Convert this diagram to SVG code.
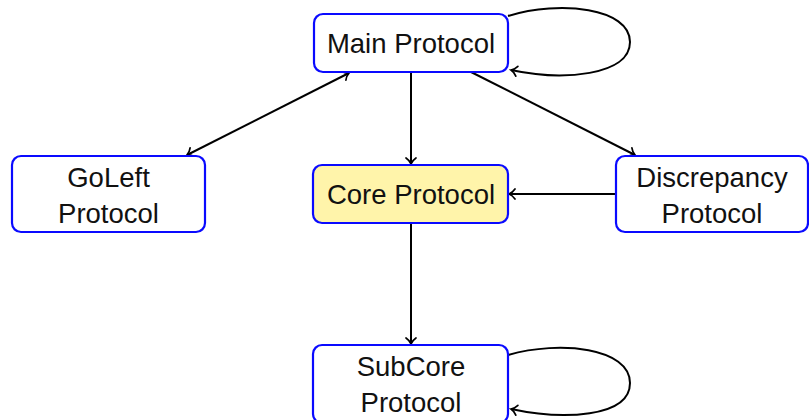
<svg xmlns="http://www.w3.org/2000/svg" width="809" height="420" viewBox="0 0 809 420">
  <style>
    .node rect { fill: #ffffff; stroke: #0a0aff; stroke-width: 2.2; }
    .node.core rect { fill: #fff4aa; }
    .node text { font-family: "Liberation Sans", Arial, sans-serif; font-size: 27.5px; fill: #111; text-anchor: middle; }
    .edges path { fill: none; stroke: #000; stroke-width: 2; }
  </style>
  <defs>
    <marker id="arrow" viewBox="-8 -6 10 12" refX="0" refY="0" markerWidth="10" markerHeight="12" markerUnits="userSpaceOnUse" orient="auto-start-reverse">
      <path d="M -6 -5 C -4 -2 -1.5 -0.6 0 0 C -1.5 0.6 -4 2 -6 5" fill="none" stroke="#000" stroke-width="1.7" stroke-linecap="round"/>
    </marker>
  </defs>

  <!-- connectors -->
  <g class="edges">
    <path d="M 411 72 L 411 164" marker-end="url(#arrow)"/>
    <path d="M 349 73 L 187 155" marker-start="url(#arrow)" marker-end="url(#arrow)"/>
    <path d="M 471 72 L 635 155" marker-end="url(#arrow)"/>
    <path d="M 616 194 L 509 194" marker-end="url(#arrow)"/>
    <path d="M 411 223 L 411 344" marker-end="url(#arrow)"/>
    <path d="M 508 16 C 560 0 630 8 630 42 C 630 76 562 81 511 70" marker-end="url(#arrow)"/>
    <path d="M 508 355 C 560 340 630 348 630 383 C 630 418 562 420 511 409" marker-end="url(#arrow)"/>
  </g>

  <!-- nodes -->
  <g id="main" class="node">
    <rect x="314" y="14" width="194" height="58" rx="9"/>
    <text x="411" y="53">Main Protocol</text>
  </g>
  <g id="core" class="node core">
    <rect x="313" y="165" width="195" height="58" rx="9"/>
    <text x="411" y="204">Core Protocol</text>
  </g>
  <g id="goleft" class="node">
    <rect x="12" y="156" width="193" height="76" rx="9"/>
    <text x="108.5" y="187">GoLeft</text>
    <text x="108.5" y="223">Protocol</text>
  </g>
  <g id="discrepancy" class="node">
    <rect x="616" y="156" width="192" height="76" rx="9"/>
    <text x="712" y="187">Discrepancy</text>
    <text x="712" y="223">Protocol</text>
  </g>
  <g id="subcore" class="node">
    <rect x="313" y="345" width="195" height="78" rx="9"/>
    <text x="411" y="376">SubCore</text>
    <text x="411" y="412">Protocol</text>
  </g>
</svg>
